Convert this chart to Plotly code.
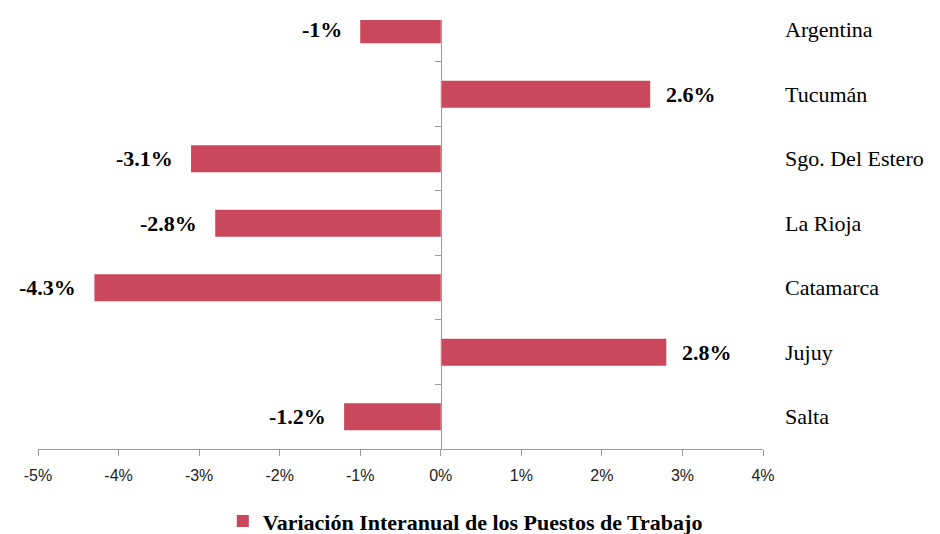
import plotly.graph_objects as go

categories = ["Salta", "Jujuy", "Catamarca", "La Rioja", "Sgo. Del Estero", "Tucumán", "Argentina"]
values = [-1.2, 2.8, -4.3, -2.8, -3.1, 2.6, -1.0]
value_labels = ["-1.2%", "2.8%", "-4.3%", "-2.8%", "-3.1%", "2.6%", "-1%"]
x_ticks = [-5, -4, -3, -2, -1, 0, 1, 2, 3, 4]
x_tick_labels = ["-5%", "-4%", "-3%", "-2%", "-1%", "0%", "1%", "2%", "3%", "4%"]
series_name = "Variación Interanual de los Puestos de Trabajo"

bar_color = "#C9485B"
axis_color = "#9a9a9a"
serif = "Liberation Serif, Times New Roman, serif"

fig = go.Figure()
fig.add_trace(go.Bar(
    x=values, y=categories, orientation="h",
    marker=dict(color=bar_color, line=dict(width=0)),
    name=series_name, showlegend=True,
))

annotations = []
for cat, v, lab in zip(categories, values, value_labels):
    annotations.append(dict(
        x=v, y=cat, xref="x", yref="y", text=lab, showarrow=False,
        xanchor="left" if v >= 0 else "right",
        xshift=14 if v >= 0 else -16,
        font=dict(family=serif, size=22, color="#000000", weight="bold"),
    ))
    annotations.append(dict(
        x=1.027, y=cat, xref="paper", yref="y", text=cat, showarrow=False,
        xanchor="left", font=dict(family=serif, size=22, color="#000000"),
    ))

fig.update_layout(
    width=940, height=534,
    margin=dict(l=38, r=177, t=20, b=85, autoexpand=False),
    paper_bgcolor="white", plot_bgcolor="white",
    bargap=0.58,
    annotations=annotations,
    xaxis=dict(
        range=[-5, 4], tickvals=x_ticks, ticktext=x_tick_labels,
        showgrid=False, zeroline=False,
        showline=True, linecolor=axis_color, linewidth=1,
        ticks="outside", ticklen=6, tickcolor=axis_color,
        ticklabelstandoff=6,
        tickfont=dict(family="Liberation Sans, Arial, sans-serif", size=16, color="#222222"),
    ),
    yaxis=dict(
        categoryorder="array", categoryarray=categories,
        range=[-0.5, 6.15],
        showgrid=False, zeroline=False, showticklabels=False,
        showline=True, linecolor=axis_color, linewidth=1,
        ticks="outside", ticklen=6, tickcolor=axis_color, tickson="boundaries",
        anchor="free", position=5 / 9,
    ),
    legend=dict(
        orientation="h", xref="container", yref="container",
        x=0.495, y=0.024, xanchor="center", yanchor="middle",
        font=dict(family=serif, size=22, color="#000000", weight="bold"),
        itemwidth=30,
    ),
)

fig.write_html("out.html", config={"displayModeBar": False},
               post_script="document.body.style.margin='0';")
